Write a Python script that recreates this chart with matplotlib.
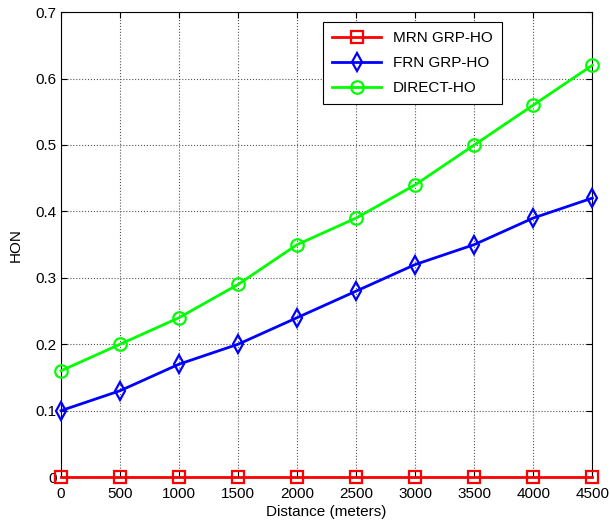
import numpy as np
import matplotlib
matplotlib.use("Agg")
import matplotlib.pyplot as plt

plt.rcParams['font.family'] = ['Liberation Sans', 'DejaVu Sans']

# --- DATEN ---
distance = [0, 500, 1000, 1500, 2000, 2500, 3000, 3500, 4000, 4500]
mrn_grp = [0, 0, 0, 0, 0, 0, 0, 0, 0, 0]
frn_grp = [0.10, 0.13, 0.17, 0.20, 0.24, 0.28, 0.32, 0.35, 0.39, 0.42]
direct = [0.16, 0.20, 0.24, 0.29, 0.35, 0.39, 0.44, 0.50, 0.56, 0.62]
x_ticks = [0, 500, 1000, 1500, 2000, 2500, 3000, 3500, 4000, 4500]
y_ticks = [0, 0.1, 0.2, 0.3, 0.4, 0.5, 0.6, 0.7]

fig = plt.figure(figsize=(6.1, 5.26), dpi=100)
ax = fig.add_axes([0.1, 0.093, 0.871, 0.884])

ax.plot(distance, mrn_grp, color='#ff0000', linewidth=2, marker='s', markersize=8,
        markerfacecolor='none', markeredgewidth=1.6, label='MRN GRP-HO', clip_on=False, zorder=5)
ax.plot(distance, frn_grp, color='#0000ff', linewidth=2, marker='d', markersize=9,
        markerfacecolor='none', markeredgewidth=1.6, label='FRN GRP-HO', clip_on=False, zorder=4)
ax.plot(distance, direct, color='#00ff00', linewidth=2, marker='o', markersize=9,
        markerfacecolor='none', markeredgewidth=1.6, label='DIRECT-HO', clip_on=False, zorder=3)

ax.set_xlim(0, 4500)
ax.set_ylim(0, 0.7)
ax.set_xticks(x_ticks)
ax.set_xticklabels([str(v) for v in x_ticks])
ax.set_yticks(y_ticks)
ax.set_yticklabels(['0', '0.1', '0.2', '0.3', '0.4', '0.5', '0.6', '0.7'])
ax.tick_params(direction='in', length=4, labelsize=11, top=True, right=True)
ax.tick_params(axis='x', pad=7)
ax.tick_params(axis='y', pad=3)
ax.grid(True, color='#555555', linestyle=':', linewidth=0.8)
for s in ax.spines.values():
    s.set_linewidth(0.8)

ax.set_xlabel('Distance (meters)', fontsize=11, labelpad=3)
ax.set_ylabel('HON', fontsize=11, labelpad=9)

leg = ax.legend(loc='upper left', bbox_to_anchor=(0.493, 0.978), fontsize=11,
                fancybox=False, framealpha=1, edgecolor='black', borderpad=0.6,
                borderaxespad=0, handlelength=3.2, labelspacing=0.7)
leg.get_frame().set_linewidth(0.8)

plt.savefig('out.png', dpi=100)
